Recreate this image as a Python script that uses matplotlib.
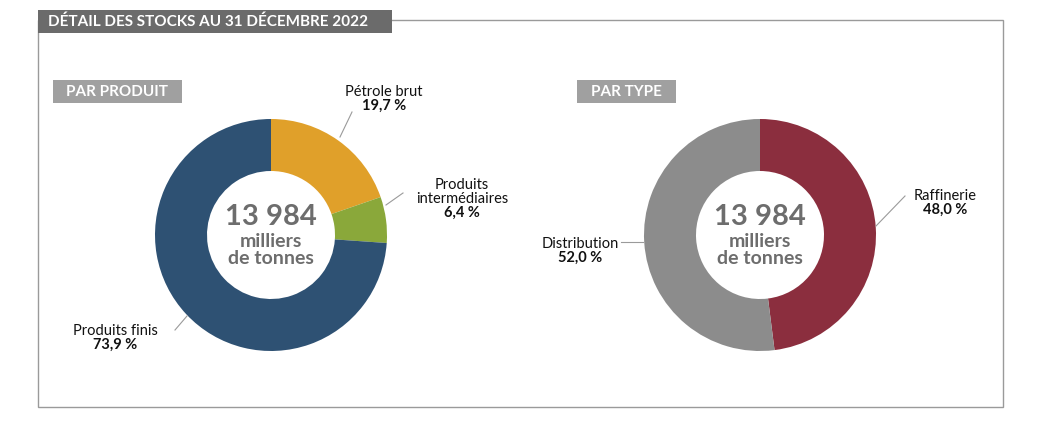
import matplotlib
matplotlib.use("Agg")
import matplotlib.pyplot as plt
from matplotlib.patches import Rectangle

W, H = 1051, 425
TITLE = "DÉTAIL DES STOCKS AU 31 DÉCEMBRE 2022"
TOTAL = "13 984"
UNIT = "milliers\nde tonnes"

produit_labels = ["Pétrole brut", "Produits\nintermédiaires", "Produits finis"]
produit_values = [19.7, 6.4, 73.9]
produit_colors = ["#E0A02A", "#8AA83A", "#2E5173"]

type_labels = ["Raffinerie", "Distribution"]
type_values = [48.0, 52.0]
type_colors = ["#8B2E3E", "#8C8C8C"]

plt.rcParams["font.family"] = "Lato"
fig = plt.figure(figsize=(W / 100, H / 100), dpi=100)
ax = fig.add_axes([0, 0, 1, 1])
ax.set_xlim(0, W)
ax.set_ylim(0, H)
ax.set_aspect("equal")
ax.axis("off")

def y(py):
    return H - py

# frame + title
ax.add_patch(Rectangle((38, y(407)), 965, 387, fill=False, ec="#9a9a9a", lw=1))
ax.add_patch(Rectangle((38, y(33)), 354, 23, fc="#6b6b6b", ec="none"))
ax.text(48, y(21.5), TITLE, color="white", fontsize=11, fontweight="bold", va="center")

for x0, w, txt in [(53, 129, "PAR PRODUIT"), (577, 99, "PAR TYPE")]:
    ax.add_patch(Rectangle((x0, y(103)), w, 23, fc="#a0a0a0", ec="none"))
    ax.text(x0 + w / 2, y(91.5), txt, color="white", fontsize=11, fontweight="bold",
            va="center", ha="center")

R, WID = 116, 52
for cx, vals, cols in [(271, produit_values, produit_colors), (760, type_values, type_colors)]:
    ax.pie(vals, colors=cols, center=(cx, y(235)), radius=R, startangle=90,
           counterclock=False, wedgeprops=dict(width=WID, linewidth=0), frame=True)
    ax.text(cx, y(217), TOTAL, ha="center", va="center", fontsize=21,
            fontweight="bold", color="#6d6d6d")
    ax.text(cx, y(250), UNIT, ha="center", va="center", fontsize=14,
            fontweight="bold", color="#6d6d6d", linespacing=0.95)
ax.set_xlim(0, W)
ax.set_ylim(0, H)
ax.axis("off")

lc = "#9a9a9a"
def lab(px, py, name, pct, ha):
    ax.text(px, y(py), name, ha=ha, va="bottom", fontsize=10.5, color="#111111", linespacing=1.0)
    ax.text(px, y(py), f"{pct:.1f} %".replace(".", ","), ha=ha, va="top",
            fontsize=10.5, fontweight="bold", color="#111111")

ax.plot([340, 352], [y(137), y(112)], color=lc, lw=0.8)
lab(384, 99, produit_labels[0], produit_values[0], "center")
ax.plot([386, 403], [y(205), y(193)], color=lc, lw=0.8)
lab(462, 206, produit_labels[1], produit_values[1], "center")
ax.plot([187, 175], [y(316), y(330)], color=lc, lw=0.8)
lab(115, 338, produit_labels[2], produit_values[2], "center")
ax.plot([876, 905], [y(226), y(196)], color=lc, lw=0.8)
lab(945, 203, type_labels[0], type_values[0], "center")
ax.plot([621, 643], [y(242), y(242)], color=lc, lw=0.8)
lab(580, 251, type_labels[1], type_values[1], "center")

fig.savefig("out.png", dpi=100)
